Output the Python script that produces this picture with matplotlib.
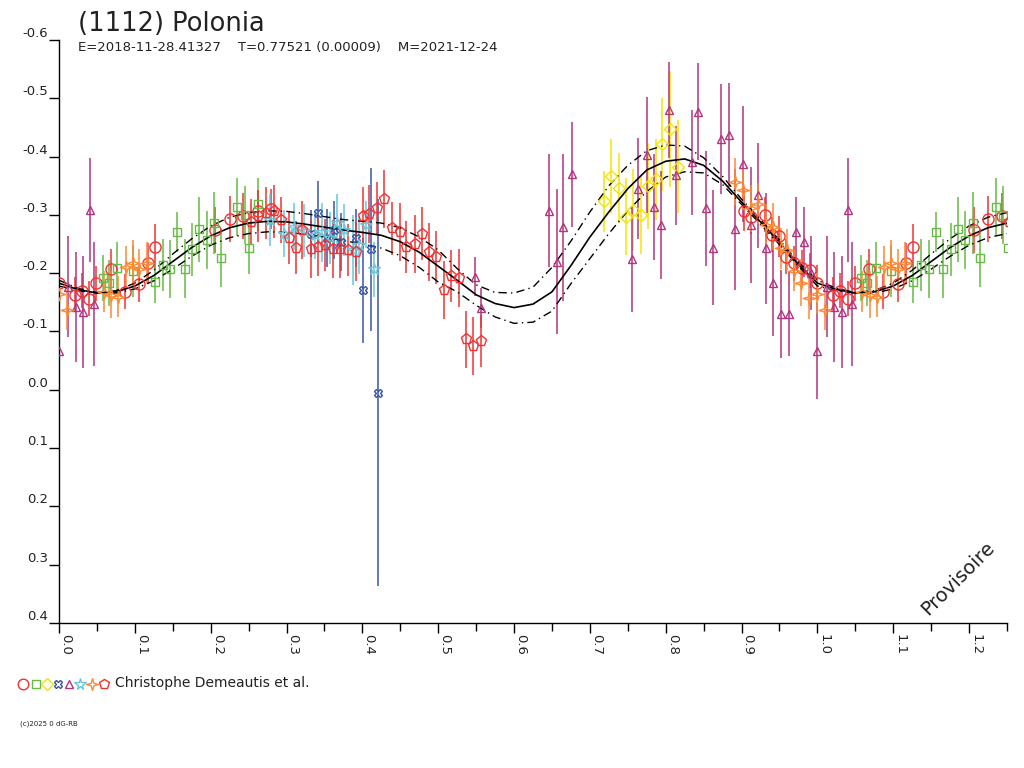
"""
Lightcurve of (1112) Polonia, folded on the rotation period.
Phase 0 - 1.25, magnitude axis inverted.
"""

import numpy as np
import matplotlib
matplotlib.use("Agg")
import matplotlib.pyplot as plt
from matplotlib.lines import Line2D

# --- header texts ---
title = "(1112) Polonia"
subtitle = "E=2018-11-28.41327    T=0.77521 (0.00009)    M=2021-12-24"
observer = "Christophe Demeautis et al."
copyright_txt = "(c)2025 0 dG-RB"
stamp = "Provisoire"

# --- fitted model, phase grid 0..1 step 0.025 ---
curve_phase = np.linspace(0.0, 1.0, 41)
curve_mid = [-0.183, -0.172, -0.166, -0.168, -0.178, -0.196, -0.220, -0.244, -0.264, -0.278,
             -0.286, -0.289, -0.288, -0.284, -0.279, -0.274, -0.270, -0.265, -0.254, -0.236,
             -0.212, -0.188, -0.163, -0.148, -0.141, -0.147, -0.168, -0.213, -0.262, -0.305,
             -0.345, -0.377, -0.392, -0.396, -0.385, -0.358, -0.322, -0.288, -0.253, -0.215,
             -0.183]
curve_hi = [-0.188, -0.174, -0.167, -0.170, -0.183, -0.205, -0.233, -0.259, -0.281, -0.296,
            -0.304, -0.307, -0.306, -0.302, -0.297, -0.292, -0.289, -0.286, -0.278, -0.262,
            -0.240, -0.208, -0.180, -0.167, -0.166, -0.176, -0.210, -0.255, -0.305, -0.350,
            -0.385, -0.410, -0.420, -0.418, -0.398, -0.366, -0.327, -0.292, -0.257, -0.219,
            -0.188]
curve_lo = [-0.178, -0.170, -0.166, -0.166, -0.173, -0.187, -0.207, -0.229, -0.248, -0.261,
            -0.268, -0.271, -0.270, -0.267, -0.262, -0.256, -0.250, -0.243, -0.230, -0.210,
            -0.185, -0.168, -0.145, -0.125, -0.114, -0.116, -0.135, -0.182, -0.225, -0.268,
            -0.307, -0.340, -0.365, -0.374, -0.372, -0.352, -0.318, -0.284, -0.249, -0.212,
            -0.178]

# --- observations: phase, magnitude, error ---
circle_phase = [0.000, 0.021, 0.030, 0.040, 0.049, 0.068, 0.087, 0.106, 0.117, 0.126,
                0.206, 0.225, 0.243, 0.262, 0.280, 0.903, 0.912, 0.931, 0.940, 0.950,
                0.958, 0.969, 0.980, 0.990]
circle_mag = [-0.184, -0.163, -0.170, -0.156, -0.183, -0.207, -0.168, -0.181, -0.217, -0.245,
              -0.274, -0.293, -0.298, -0.307, -0.310, -0.307, -0.297, -0.300, -0.266, -0.263,
              -0.228, -0.217, -0.209, -0.205]
circle_err = [0.030, 0.030, 0.030, 0.030, 0.030, 0.035, 0.030, 0.030, 0.035, 0.040,
              0.040, 0.040, 0.040, 0.035, 0.035, 0.035, 0.030, 0.030, 0.030, 0.035,
              0.030, 0.030, 0.030, 0.030]

square_phase = [0.058, 0.066, 0.077, 0.097, 0.126, 0.137, 0.147, 0.156, 0.166, 0.176,
                0.185, 0.195, 0.205, 0.214, 0.235, 0.245, 0.251, 0.262]
square_mag = [-0.192, -0.183, -0.209, -0.204, -0.185, -0.214, -0.207, -0.271, -0.208, -0.241,
              -0.275, -0.257, -0.286, -0.226, -0.314, -0.300, -0.243, -0.319]
square_err = [0.040, 0.040, 0.045, 0.045, 0.036, 0.045, 0.050, 0.034, 0.050, 0.045,
              0.055, 0.050, 0.053, 0.050, 0.050, 0.050, 0.045, 0.045]

diamond_phase = [0.718, 0.728, 0.738, 0.748, 0.757, 0.767, 0.777, 0.787, 0.795, 0.806, 0.816]
diamond_mag = [-0.323, -0.367, -0.346, -0.297, -0.308, -0.300, -0.349, -0.361, -0.421, -0.447, -0.383]
diamond_err = [0.052, 0.063, 0.060, 0.066, 0.070, 0.067, 0.074, 0.070, 0.080, 0.100, 0.080]

cross_phase = [0.332, 0.342, 0.353, 0.362, 0.372, 0.392, 0.401, 0.411, 0.420]
cross_mag = [-0.268, -0.304, -0.260, -0.274, -0.254, -0.260, -0.171, -0.241, 0.005]
cross_err = [0.040, 0.054, 0.050, 0.050, 0.050, 0.050, 0.090, 0.140, 0.332]

tri_phase = [0.000, 0.012, 0.022, 0.032, 0.041, 0.046, 0.548, 0.557, 0.646, 0.656,
             0.665, 0.676, 0.755, 0.764, 0.775, 0.784, 0.794, 0.804, 0.813, 0.834,
             0.843, 0.853, 0.863, 0.873, 0.883, 0.892, 0.902, 0.912, 0.922, 0.932,
             0.942, 0.952, 0.962, 0.972, 0.982, 0.991]
tri_mag = [-0.067, -0.177, -0.142, -0.134, -0.308, -0.147, -0.194, -0.140, -0.307, -0.220,
           -0.279, -0.370, -0.224, -0.345, -0.403, -0.314, -0.283, -0.480, -0.368, -0.390,
           -0.477, -0.311, -0.244, -0.430, -0.437, -0.275, -0.387, -0.283, -0.334, -0.243,
           -0.183, -0.130, -0.130, -0.270, -0.253, -0.200]
tri_err = [0.083, 0.086, 0.094, 0.096, 0.089, 0.107, 0.033, 0.034, 0.097, 0.124,
           0.126, 0.090, 0.090, 0.087, 0.099, 0.091, 0.093, 0.083, 0.085, 0.090,
           0.083, 0.099, 0.099, 0.094, 0.090, 0.104, 0.100, 0.100, 0.090, 0.095,
           0.090, 0.075, 0.072, 0.061, 0.060, 0.063]

star_phase = [0.278, 0.297, 0.310, 0.323, 0.337, 0.347, 0.357, 0.367, 0.376, 0.387,
              0.396, 0.405, 0.415]
star_mag = [-0.291, -0.268, -0.280, -0.273, -0.265, -0.270, -0.260, -0.286, -0.274, -0.240,
            -0.248, -0.283, -0.207]
star_err = [0.045, 0.040, 0.040, 0.045, 0.040, 0.050, 0.045, 0.050, 0.045, 0.060,
            0.050, 0.040, 0.047]

spark_phase = [0.000, 0.010, 0.059, 0.069, 0.078, 0.088, 0.097, 0.106, 0.116, 0.892,
               0.902, 0.912, 0.922, 0.932, 0.941, 0.952, 0.960, 0.969, 0.979, 0.989]
spark_mag = [-0.165, -0.137, -0.168, -0.163, -0.160, -0.211, -0.217, -0.207, -0.218, -0.357,
             -0.343, -0.311, -0.319, -0.283, -0.280, -0.243, -0.240, -0.204, -0.184, -0.157]
spark_err = [0.035, 0.035, 0.035, 0.040, 0.035, 0.035, 0.040, 0.035, 0.035, 0.040,
             0.035, 0.040, 0.035, 0.035, 0.040, 0.035, 0.035, 0.035, 0.040, 0.035]

pent_phase = [0.253, 0.263, 0.273, 0.283, 0.293, 0.303, 0.312, 0.321, 0.332, 0.341,
              0.351, 0.361, 0.371, 0.381, 0.391, 0.401, 0.409, 0.419, 0.429, 0.439,
              0.449, 0.458, 0.469, 0.478, 0.488, 0.497, 0.508, 0.517, 0.527, 0.537,
              0.546, 0.556]
pent_mag = [-0.288, -0.298, -0.303, -0.306, -0.291, -0.260, -0.244, -0.274, -0.241, -0.245,
            -0.248, -0.241, -0.241, -0.240, -0.237, -0.298, -0.301, -0.311, -0.327, -0.277,
            -0.271, -0.245, -0.250, -0.268, -0.236, -0.227, -0.171, -0.195, -0.192, -0.087,
            -0.075, -0.084]
pent_err = [0.040, 0.045, 0.045, 0.045, 0.040, 0.045, 0.045, 0.050, 0.050, 0.050,
            0.045, 0.050, 0.050, 0.045, 0.050, 0.050, 0.050, 0.045, 0.050, 0.045,
            0.050, 0.045, 0.050, 0.045, 0.050, 0.045, 0.050, 0.045, 0.050, 0.049,
            0.050, 0.045]

ytick_values = [-0.6, -0.5, -0.4, -0.3, -0.2, -0.1, 0.0, 0.1, 0.2, 0.3, 0.4]
ytick_labels = ["-0.6", "-0.5", "-0.4", "-0.3", "-0.2", "-0.1", "0.0", "0.1", "0.2", "0.3", "0.4"]
xtick_values = [0.0, 0.1, 0.2, 0.3, 0.4, 0.5, 0.6, 0.7, 0.8, 0.9, 1.0, 1.1, 1.2]
xtick_labels = ["0.0", "0.1", "0.2", "0.3", "0.4", "0.5", "0.6", "0.7", "0.8", "0.9", "1.0", "1.1", "1.2"]

# 4-point star marker
spark_marker = [(0, 1), (0.22, 0.22), (1, 0), (0.22, -0.22), (0, -1), (-0.22, -0.22),
                (-1, 0), (-0.22, 0.22), (0, 1)]

series = [
    (circle_phase, circle_mag, circle_err, "o", 8, "#f03232"),
    (square_phase, square_mag, square_err, "s", 5.5, "#66bb44"),
    (diamond_phase, diamond_mag, diamond_err, "D", 6, "#f2e600"),
    (cross_phase, cross_mag, cross_err, "X", 5.5, "#3a55aa"),
    (tri_phase, tri_mag, tri_err, "^", 6, "#b3337f"),
    (star_phase, star_mag, star_err, "*", 9, "#66c8dd"),
    (spark_phase, spark_mag, spark_err, spark_marker, 9, "#ff8833"),
    (pent_phase, pent_mag, pent_err, "p", 8, "#f03232"),
]

plt.rcParams["font.family"] = ["DejaVu Sans"]

fig = plt.figure(figsize=(10.24, 7.68), dpi=100)
ax = fig.add_axes([59 / 1024, 1 - 623 / 768, 948 / 1024, 583 / 768])

# model curves, repeated past phase 1
cx = np.concatenate([curve_phase, curve_phase[1:] + 1.0])
for vals, style, lw in [(curve_mid, "-", 1.2),
                        (curve_hi, (0, (6, 3, 1, 3)), 1.0),
                        (curve_lo, (0, (6, 3, 1, 3)), 1.0)]:
    cy = np.concatenate([vals, vals[1:]])
    ax.plot(cx, cy, color="black", linestyle=style, linewidth=lw, zorder=3)

# data points, each drawn at phase and phase + 1
for ph, mag, err, mk, ms, col in series:
    ph = np.asarray(ph)
    for shift in (0.0, 1.0):
        ax.errorbar(ph + shift, mag, yerr=err, fmt="none", ecolor=col,
                    elinewidth=1.1, capsize=0, zorder=2)
        ax.plot(ph + shift, mag, linestyle="none", marker=mk, markersize=ms,
                markerfacecolor="none", markeredgecolor=col, markeredgewidth=1.0,
                zorder=4)

ax.set_xlim(0.0, 1.25)
ax.set_ylim(0.4, -0.6)

ax.spines["top"].set_visible(False)
ax.spines["right"].set_visible(False)
ax.spines["left"].set_linewidth(1.0)
ax.spines["bottom"].set_linewidth(1.0)

ax.set_yticks(ytick_values)
ax.set_yticklabels(ytick_labels, fontsize=9.5, color="#222222")
for lbl in ax.get_yticklabels():
    lbl.set_verticalalignment("bottom")
ax.tick_params(axis="y", direction="out", length=7, width=1, pad=1)

ax.set_xticks(xtick_values)
ax.set_xticks(np.arange(0.05, 1.26, 0.1), minor=True)
ax.set_xticklabels(xtick_labels, fontsize=9.5, color="#222222",
                   rotation=270, ha="left", va="top")
ax.tick_params(axis="x", which="major", direction="out", length=7, width=1, pad=1)
ax.tick_params(axis="x", which="minor", direction="out", length=6, width=1)

# header
fig.text(78 / 1024, 1 - 31 / 768, title, fontsize=18.5, color="#222222",
         ha="left", va="baseline")
fig.text(78 / 1024, 1 - 51 / 768, subtitle, fontsize=9.5, color="#222222",
         ha="left", va="baseline")

# observer legend row
legend_x = [23, 36, 47, 58, 69, 80, 92, 104]
for (ph, mag, err, mk, ms, col), lx in zip(series, legend_x):
    fig.add_artist(Line2D([lx / 1024], [1 - 684 / 768], transform=fig.transFigure,
                          linestyle="none", marker=mk, markersize=ms * 0.95,
                          markerfacecolor="none", markeredgecolor=col,
                          markeredgewidth=1.0))
fig.text(115 / 1024, 1 - 683 / 768, observer, fontsize=10, color="#222222",
         ha="left", va="center")
fig.text(20 / 1024, 1 - 724 / 768, copyright_txt, fontsize=5, color="#222222",
         ha="left", va="center")

ax.text(958 / 1024, 1 - 578 / 768, stamp, transform=fig.transFigure, fontsize=14,
        rotation=45, ha="center", va="center", color="#222222")

fig.savefig("out.png", dpi=100)
